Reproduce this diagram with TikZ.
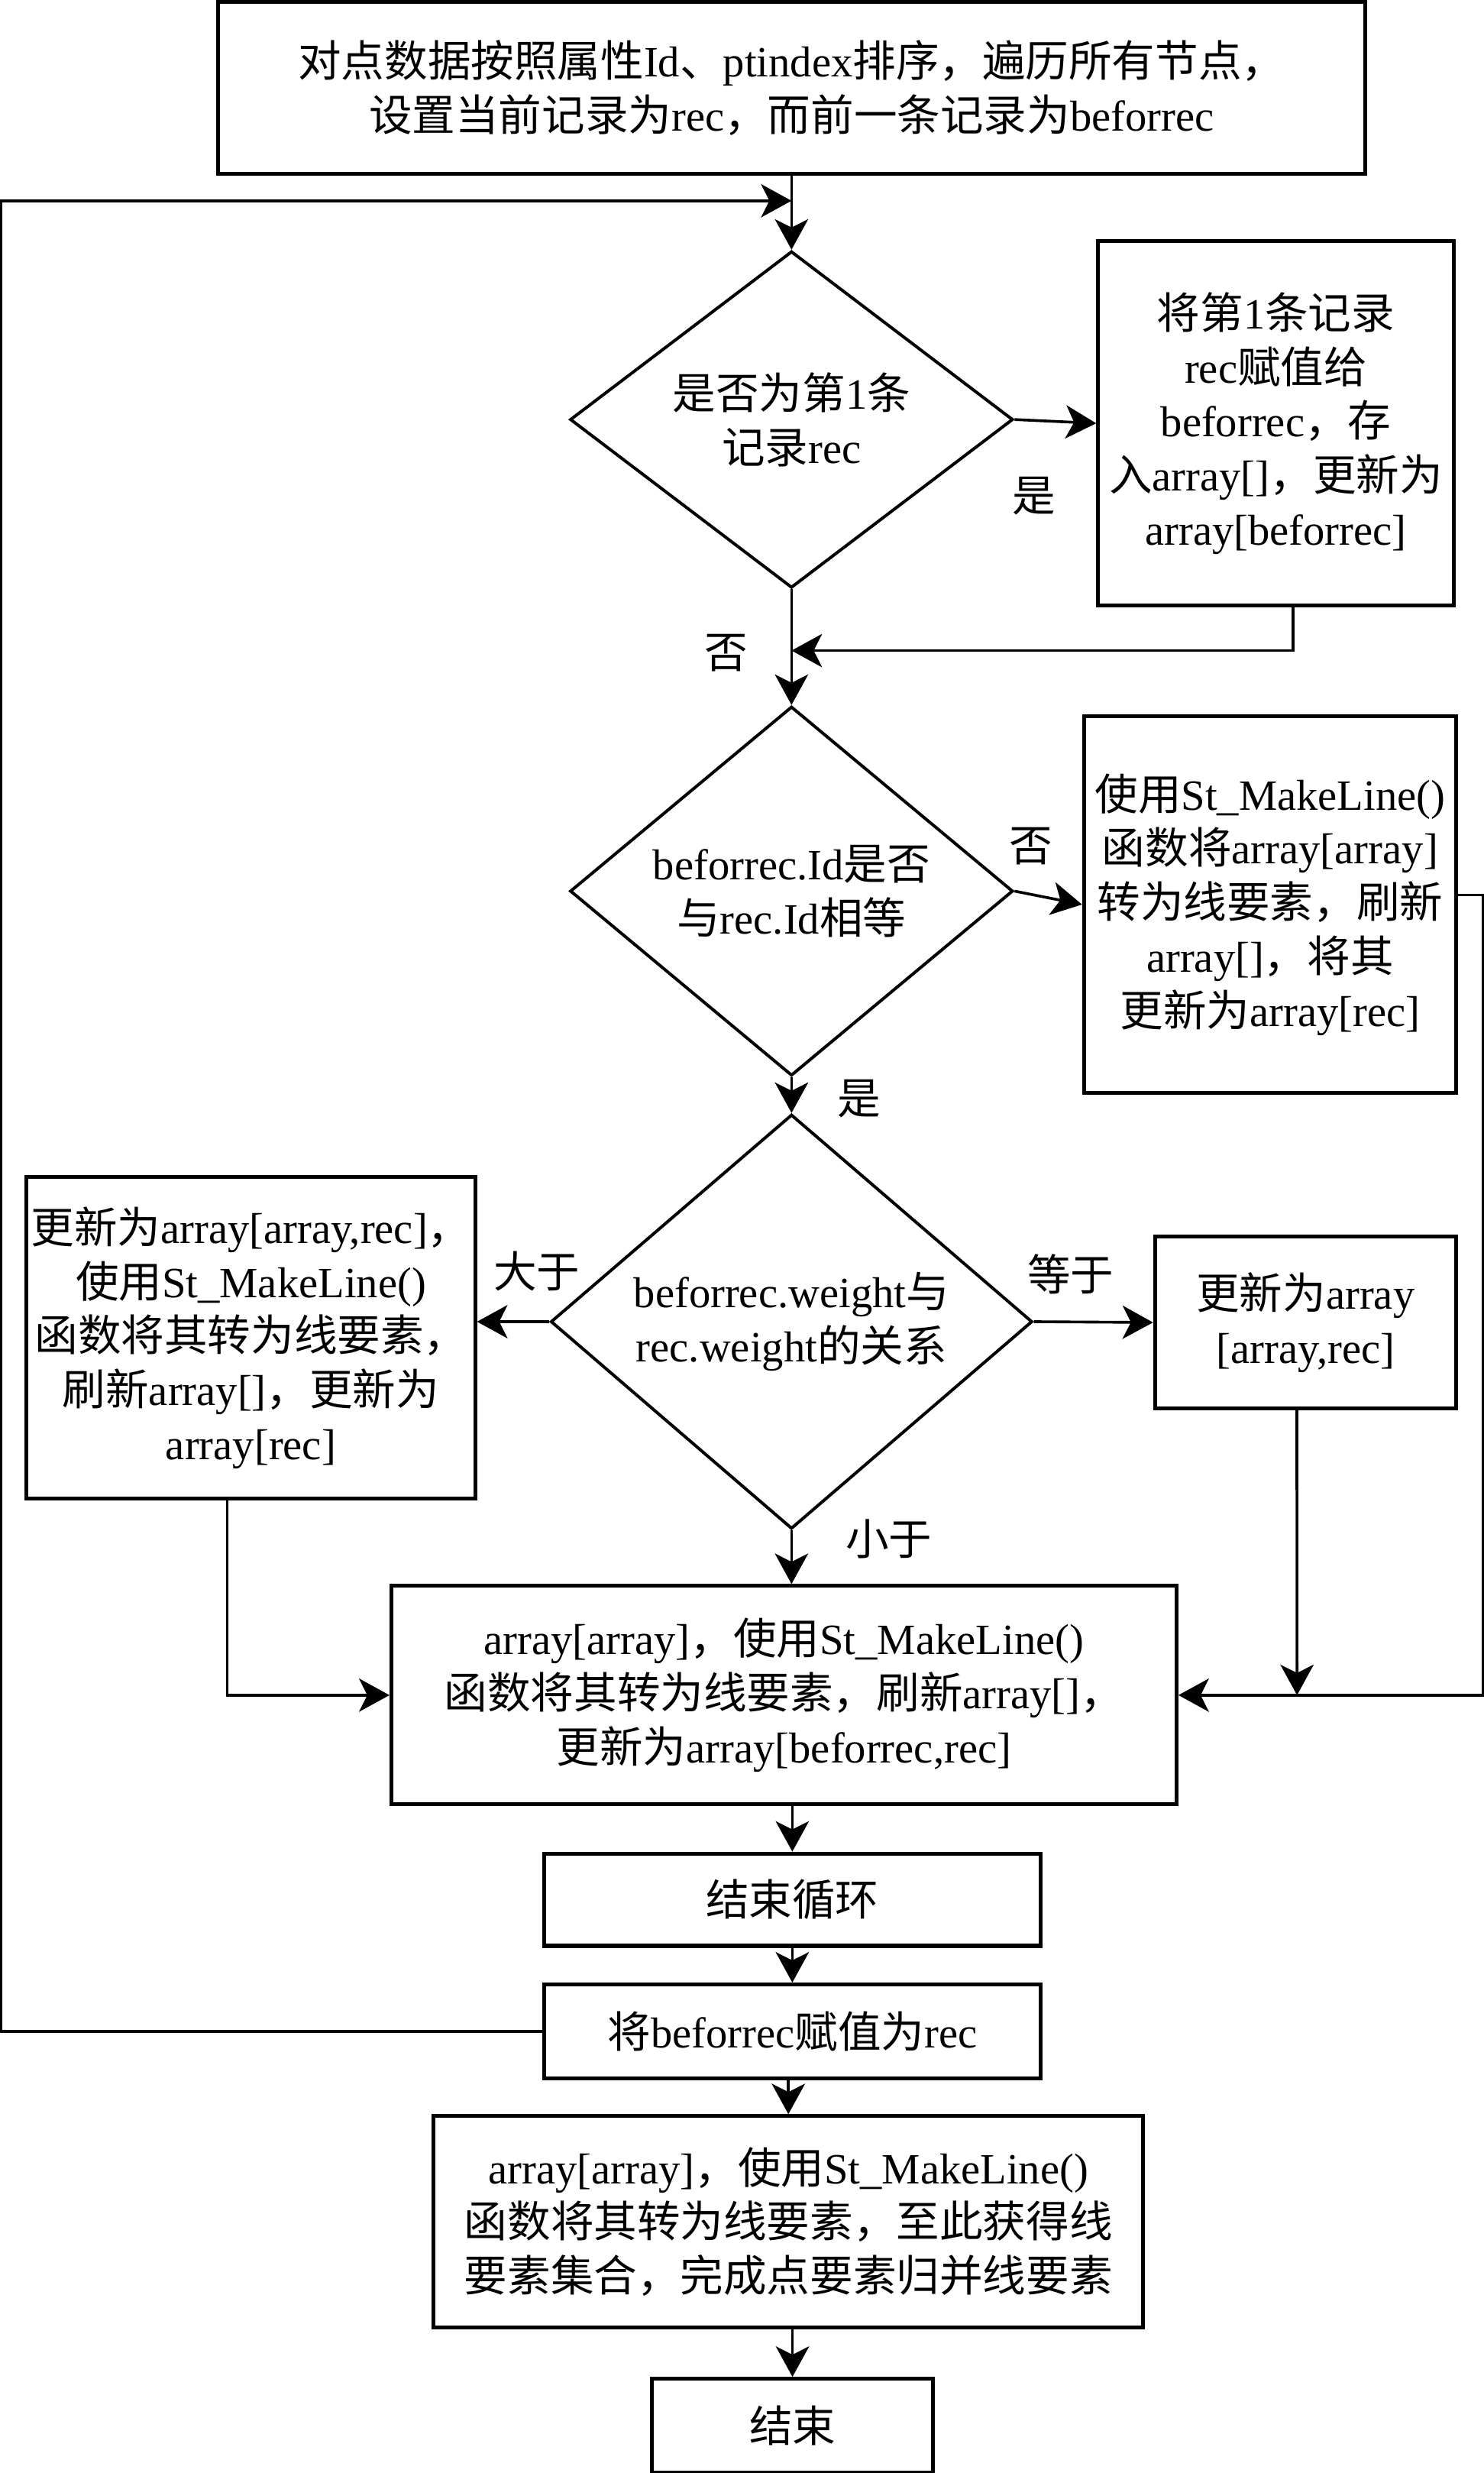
\documentclass[tikz,border=0pt]{standalone}
\usepackage{fontspec}
\setmainfont{Liberation Serif}
\newfontfamily\heiti{Noto Sans CJK SC}
\newcommand{\zw}[1]{{\heiti #1}}
\usetikzlibrary{shapes.geometric}
\usetikzlibrary{arrows.meta}

\begin{document}
\begin{tikzpicture}[x=0.02cm,y=-0.02cm,
		every node/.style={font=\fontsize{15.6}{19.5}\selectfont},
		box/.style={draw,line width=1.4pt,inner sep=1pt,align=center},
		decision/.style={draw,diamond,line width=1.1pt,inner sep=0pt,align=center},
		arr/.style={line width=1pt,-{Stealth[length=11pt,width=12pt,inset=3pt]}},
		lbl/.style={inner sep=0pt}]

		\useasboundingbox (0,0) rectangle (941,1568);

		% 开始
		\node [box,minimum width=14.56cm,minimum height=2.18cm] (start) at (502,55.6)
			{\zw{对点数据按照属性}Id\zw{、}ptindex\zw{排序，遍历所有节点，}\\
			 \zw{设置当前记录为}rec\zw{，而前一条记录为}beforrec};

		% 第一个判断
		\node [decision,minimum width=5.62cm,minimum height=4.27cm] (first) at (502,266)
			{\zw{是否为第}1\zw{条}\\\zw{记录}rec};

		\node [box,minimum width=4.51cm,minimum height=4.62cm] (init) at (809.2,268.4)
			{\zw{将第}1\zw{条记录}\\rec\zw{赋值给}\\beforrec\zw{，存}\\
			 \zw{入}array[]\zw{，更新为}\\array[beforrec]};

		% 第二个判断
		\node [decision,minimum width=5.62cm,minimum height=4.3cm] (sameid) at (502,565)
			{beforrec.Id\zw{是否}\\\zw{与}rec.Id\zw{相等}};

		\node [box,minimum width=4.72cm,minimum height=4.78cm] (newline) at (805.5,573.5)
			{\zw{使用}St\_MakeLine()\\\zw{函数将}array[array]\\\zw{转为线要素，刷新}\\
			 array[]\zw{，将其}\\\zw{更新为}array[rec]};

		% 第三个判断
		\node [decision,minimum width=6.11cm,minimum height=4.58cm] (weight) at (502,838)
			{beforrec.weight\zw{与}\\rec.weight\zw{的关系}};

		\node [box,minimum width=5.69cm,minimum height=4.08cm] (greater) at (159.1,848.2)
			{\zw{更新为}array[array,rec]\zw{，}\\\zw{使用}St\_MakeLine()\\
			 \zw{函数将其转为线要素，}\\\zw{刷新}array[]\zw{，更新为}\\array[rec]};

		\node [box,minimum width=3.82cm,minimum height=2.18cm] (equal) at (828,838.5)
			{\zw{更新为}array\\{}[array,rec]};

		\node [box,minimum width=9.96cm,minimum height=2.77cm] (less) at (497.2,1074.8)
			{array[array]\zw{，使用}St\_MakeLine()\\
			 \zw{函数将其转为线要素，刷新}array[]\zw{，}\\\zw{更新为}array[beforrec,rec]};

		% 循环的结尾
		\node [box,minimum width=6.3cm,minimum height=1.17cm] (endloop) at (502.5,1204.5)
			{\zw{结束循环}};
		\node [box,minimum width=6.3cm,minimum height=1.19cm] (assign) at (502.5,1288)
			{\zw{将}beforrec\zw{赋值为}rec};

		\node [box,minimum width=9cm,minimum height=2.68cm] (final) at (500,1408.7)
			{array[array]\zw{，使用}St\_MakeLine()\\
			 \zw{函数将其转为线要素，至此获得线}\\\zw{要素集合，完成点要素归并线要素}};
		\node [box,minimum width=3.56cm,minimum height=1.19cm] (stop) at (502.6,1538)
			{\zw{结束}};

		% 标签
		\node [lbl] (yes1) at (655.7,314.5) {\zw{是}};
		\node [lbl] (no1) at (460.5,414) {\zw{否}};
		\node [lbl] (no2) at (654,536.5) {\zw{否}};
		\node [lbl] (yes2) at (544.6,696.8) {\zw{是}};
		\node [lbl] (gt) at (340.5,806) {\zw{大于}};
		\node [lbl] (eq) at (679,808) {\zw{等于}};
		\node [lbl] (lt) at (563.8,975.8) {\zw{小于}};

		% 连线
		\coordinate (loopin) at (502,127.3);
		\coordinate (join1) at (502,412.5);
		\coordinate (join2) at (822.6,1074.8);

		\draw [arr] (start.south) -- (first.north);
		\draw [arr] (first.east) -- (init.west);
		\draw [arr] ([xshift=0.22cm]init.south) |- (join1);
		\draw [arr] (first.south) -- (sameid.north);
		\draw [arr] (sameid.east) -- (newline.west);
		\draw [arr] (sameid.south) -- (weight.north);
		\draw [arr] (weight.west) -- (weight.west -| greater.east);
		\draw [arr] (weight.east) -- (equal.west);
		\draw [arr] (weight.south) -- (weight.south |- less.north);
		\draw [arr] ([xshift=-0.3cm]greater.south) |- (less.west);
		\draw [arr] ([xshift=-0.11cm]equal.south) -- (join2);
		\draw [arr] ([yshift=0.12cm]newline.east) -- ++(16.1,0) |- (less.east);
		\draw [arr] (less.south -| endloop.north) -- (endloop.north);
		\draw [arr] (endloop.south) -- (assign.north);
		\draw [arr] (assign.west) -- ++(-343.2,0) |- (loopin);
		\draw [arr] (final.north |- assign.south) -- (final.north);
		\draw [arr] (final.south -| stop.north) -- (stop.north);

\end{tikzpicture}
\end{document}
